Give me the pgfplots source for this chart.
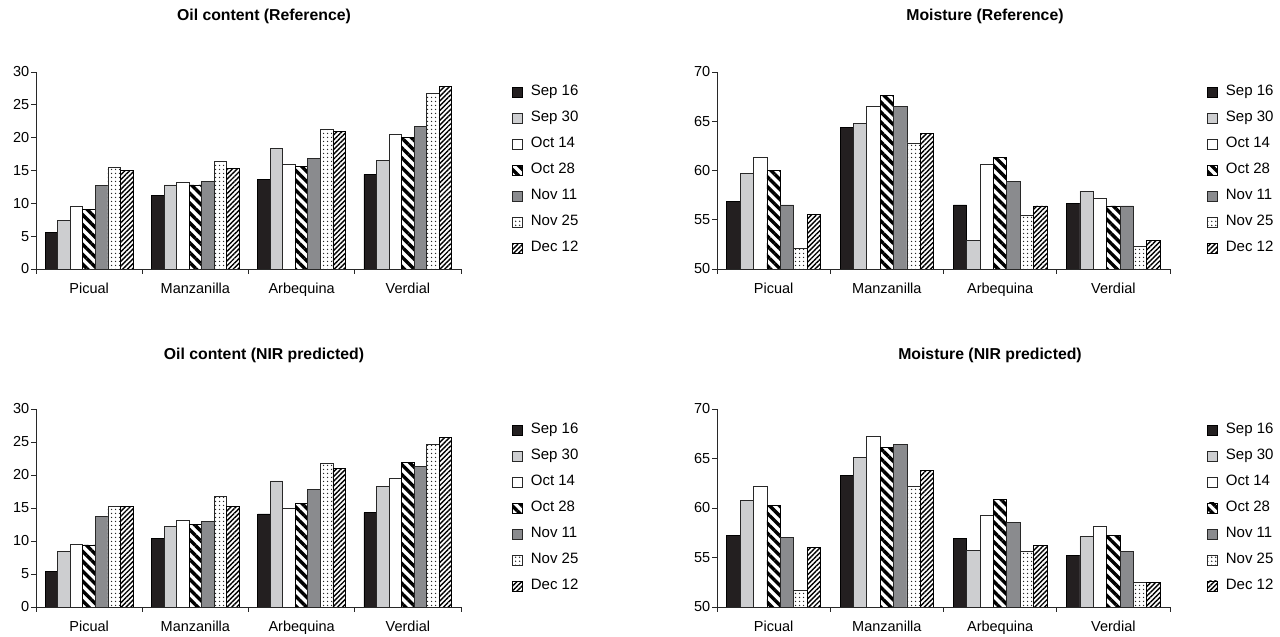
\documentclass[border=0pt]{standalone}
\usepackage{fontspec}
\setmainfont{Liberation Sans}
\usepackage{pgfplots}
\pgfplotsset{compat=1.18}
\usepackage{pgfplotstable}
\usetikzlibrary{patterns.meta}

\definecolor{c1}{RGB}{35,31,32}
\definecolor{c2}{RGB}{205,206,208}
\definecolor{c5}{RGB}{138,139,142}
\definecolor{axc}{RGB}{40,40,40}

\pgfplotstableread{
x s1 s2 s3 s4 s5 s6 s7
0 5.5 7.4 9.5 9.1 12.7 15.5 15.0
1 11.2 12.8 13.2 12.8 13.4 16.4 15.3
2 13.6 18.3 16.0 15.6 16.9 21.3 20.9
3 14.4 16.5 20.5 20.1 21.7 26.8 27.8
}\oilref

\pgfplotstableread{
x s1 s2 s3 s4 s5 s6 s7
0 56.9 59.7 61.3 60.0 56.5 52.1 55.5
1 64.4 64.8 66.5 67.6 66.5 62.8 63.8
2 56.5 52.9 60.6 61.3 58.9 55.4 56.4
3 56.7 57.9 57.2 56.4 56.4 52.3 52.9
}\moistref

\pgfplotstableread{
x s1 s2 s3 s4 s5 s6 s7
0 5.4 8.4 9.5 9.4 13.7 15.2 15.2
1 10.35 12.2 13.1 12.5 12.9 16.7 15.2
2 14.1 19.1 15.0 15.7 17.8 21.75 20.95
3 14.3 18.2 19.5 21.9 21.3 24.7 25.7
}\oilnir

\pgfplotstableread{
x s1 s2 s3 s4 s5 s6 s7
0 57.25 60.8 62.2 60.25 57.0 51.7 56.05
1 63.3 65.1 67.2 66.15 66.4 62.15 63.8
2 56.9 55.75 59.25 60.9 58.5 55.6 56.25
3 55.25 57.1 58.1 57.25 55.6 52.5 52.5
}\moistnir

\pgfplotsset{
 sqlegend/.style={legend image code/.code={\draw[##1, line width=0.7pt] (0pt,-5pt) rectangle (10pt,5pt);}},
 b1/.style={fill=c1, draw=black, line width=0.8pt, sqlegend},
 b2/.style={fill=c2, draw=axc, line width=0.8pt, sqlegend},
 b3/.style={fill=white, draw=axc, line width=0.8pt, sqlegend},
 b4/.style={fill=white, draw=black, line width=0.8pt, sqlegend,
   postaction={pattern={Lines[angle=-45,distance=7pt,line width=3.4pt]}, pattern color=black}},
 b5/.style={fill=c5, draw=axc, line width=0.8pt, sqlegend},
 b6/.style={fill=white, draw=axc, line width=0.8pt, sqlegend,
   postaction={pattern={Dots[distance=4pt,radius=0.9pt]}, pattern color=black!85}},
 b7/.style={fill=white, draw=black, line width=0.8pt, sqlegend,
   postaction={pattern={Lines[angle=45,distance=3.4pt,line width=1.4pt]}, pattern color=black}},
 panel/.style={
  scale only axis,
  ybar=0pt, bar width=0.118,
  xmin=-0.5, xmax=3.5,
  axis x line=bottom, axis y line=left,
  axis line style={-, draw=axc, line width=0.8pt},
  xtick={-0.5,0.5,1.5,2.5,3.5}, xticklabels={},
  extra x ticks={0,1,2,3},
  extra x tick labels={Picual,Manzanilla,Arbequina,Verdial},
  extra x tick style={major tick length=0pt, xticklabel style={yshift=-10pt}},
  tick align=outside, major tick length=5pt,
  tick style={draw=axc, line width=0.8pt},
  minor tick num=0,
  tick label style={font=\fontsize{14.5}{16}\selectfont, text=black},
  /pgf/number format/assume math mode=true,
  yticklabel style={inner xsep=1.5pt},
  legend style={draw=none, fill=none, at={(1,0.5)}, anchor=west, inner sep=0pt,
    row sep=13pt, font=\fontsize{15}{17}\selectfont,
    nodes={inner sep=0pt, text height=10pt, text depth=3pt},
    /tikz/every odd column/.append style={column sep=8pt}},
  legend cell align=left,
 },
 oil/.style={ymin=0, ymax=30, ytick={0,5,...,30}},
 moist/.style={ymin=50, ymax=70, ytick={50,55,...,70}},
}

\newcommand{\bars}[1]{%
 \addplot[b1] table[x=x,y=s1]{#1};
 \addplot[b2] table[x=x,y=s2]{#1};
 \addplot[b3] table[x=x,y=s3]{#1};
 \addplot[b4] table[x=x,y=s4]{#1};
 \addplot[b5] table[x=x,y=s5]{#1};
 \addplot[b6] table[x=x,y=s6]{#1};
 \addplot[b7] table[x=x,y=s7]{#1};
 \legend{Sep 16,Sep 30,Oct 14,Oct 28,Nov 11,Nov 25,Dec 12}
}

\begin{document}
\begin{tikzpicture}
\path[use as bounding box] (0pt,0pt) rectangle (1280pt,637pt);

\begin{axis}[panel, oil, at={(36pt,368pt)}, anchor=south west, width=425pt, height=197pt,
  legend style={xshift=51pt}]
\bars{\oilref}
\end{axis}

\begin{axis}[panel, moist, at={(717pt,368pt)}, anchor=south west, width=453pt, height=197pt,
  legend style={xshift=37pt}]
\bars{\moistref}
\end{axis}

\begin{axis}[panel, oil, at={(36pt,30pt)}, anchor=south west, width=425pt, height=198pt,
  legend style={xshift=51pt}]
\bars{\oilnir}
\end{axis}

\begin{axis}[panel, moist, at={(717pt,30pt)}, anchor=south west, width=453pt, height=198pt,
  legend style={xshift=37pt}]
\bars{\moistnir}
\end{axis}

\node[font=\bfseries\fontsize{15.8}{18}\selectfont] at (264pt,621pt) {Oil content (Reference)};
\node[font=\bfseries\fontsize{15.8}{18}\selectfont] at (985pt,621pt) {Moisture (Reference)};
\node[font=\bfseries\fontsize{15.8}{18}\selectfont] at (264pt,282pt) {Oil content (NIR predicted)};
\node[font=\bfseries\fontsize{15.8}{18}\selectfont] at (990pt,282pt) {Moisture (NIR predicted)};
\end{tikzpicture}
\end{document}
